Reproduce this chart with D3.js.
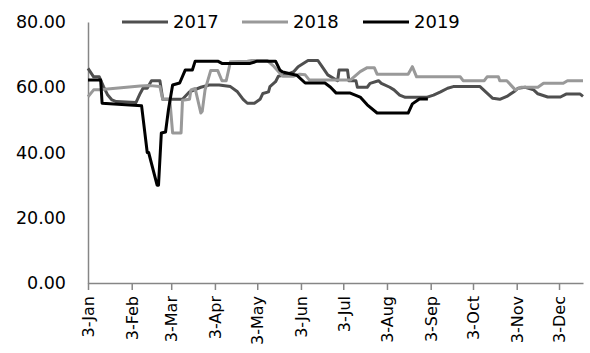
<!DOCTYPE html>
<html>
<head>
<meta charset="utf-8">
<script src="https://cdn.jsdelivr.net/npm/d3@7"></script>
<style>
  body { margin: 0; background: #fff; }
  svg { display: block; }
  text { font-family: "DejaVu Sans", sans-serif; fill: #000; }
</style>
</head>
<body>
<svg id="chart" width="590" height="353"></svg>
<script>
const years = [`2017`, `2018`, `2019`];
const colors = [`#4f4f4f`, `#999999`, `#000000`];

const dates2017 = [`01-03`, `01-07`, `01-11`, `01-14`, `01-17`, `01-20`, `01-23`, `02-06`, `02-09`, `02-11`,
    `02-14`, `02-17`, `02-23`, `02-24`, `02-25`, `03-11`, `03-16`, `03-24`, `03-30`, `04-06`,
    `04-14`, `04-19`, `04-23`, `04-26`, `05-01`, `05-05`, `05-07`, `05-11`, `05-12`, `05-16`,
    `05-18`, `05-23`, `05-29`, `06-01`, `06-08`, `06-15`, `06-18`, `06-22`, `06-29`, `06-30`,
    `07-06`, `07-07`, `07-12`, `07-13`, `07-20`, `07-22`, `07-28`, `07-30`, `08-05`, `08-08`,
    `08-12`, `08-16`, `08-31`, `09-05`, `09-10`, `09-15`, `09-19`, `10-08`, `10-12`, `10-17`,
    `10-22`, `10-27`, `11-01`, `11-04`, `11-09`, `11-15`, `11-18`, `11-25`, `12-04`, `12-08`,
    `12-18`, `12-20`];
const values2017 = [65.8, 63.2, 63.2, 60.2, 57.6, 56.1, 55.6, 55.3, 58.1, 59.7,
    59.7, 62, 62, 59.2, 56.3, 56.3, 58.6, 60, 60.7, 60.7,
    60.2, 58.6, 56.3, 55.1, 55.1, 56.3, 58.1, 58.6, 60.2, 61.7,
    63.4, 63.8, 64.8, 66.3, 68.2, 68.2, 66.3, 63.8, 62, 65.3,
    65.3, 62, 62, 60, 60, 61.2, 62, 61.2, 60, 59.2,
    57.6, 56.9, 56.9, 57.6, 58.6, 59.7, 60.2, 60.2, 58.6, 56.6,
    56.3, 57.2, 58.6, 59.7, 60, 59.2, 58, 57, 57, 57.9,
    57.9, 57.2];

const dates2018 = [`01-03`, `01-07`, `01-11`, `02-09`, `02-16`, `02-23`, `02-25`, `03-02`, `03-04`, `03-10`,
    `03-11`, `03-16`, `03-17`, `03-20`, `03-24`, `03-25`, `03-27`, `03-31`, `04-05`, `04-08`,
    `04-11`, `04-14`, `04-26`, `04-29`, `05-10`, `05-15`, `05-18`, `05-21`, `05-29`, `06-02`,
    `06-06`, `06-09`, `07-08`, `07-15`, `07-20`, `07-25`, `07-27`, `08-18`, `08-21`, `08-24`,
    `09-24`, `09-26`, `10-11`, `10-13`, `10-21`, `10-22`, `10-27`, `11-02`, `11-06`, `11-18`,
    `11-22`, `12-06`, `12-09`, `12-20`];
const values2018 = [57.1, 59.2, 59.2, 60.4, 60.5, 60.2, 56.3, 56.3, 46, 46,
    56, 56.3, 59.2, 59.6, 52.1, 52.6, 59.2, 65.1, 65.1, 62,
    62, 67.8, 68, 68.2, 68.2, 66.3, 64.8, 63.4, 63.4, 64,
    63.8, 62.2, 62.2, 64.8, 66, 66, 64, 64, 66.3, 63.2,
    63.2, 62, 62, 63.2, 63.2, 62, 62, 59.2, 60, 60,
    61.2, 61.2, 62, 62];

const dates2019 = [`01-03`, `01-12`, `01-13`, `02-10`, `02-14`, `02-15`, `02-21`, `02-22`, `02-24`, `02-27`,
    `03-01`, `03-04`, `03-09`, `03-13`, `03-18`, `03-20`, `04-05`, `04-08`, `04-28`, `05-03`,
    `05-16`, `05-19`, `05-21`, `05-31`, `06-06`, `06-20`, `06-24`, `06-28`, `07-08`, `07-15`,
    `07-20`, `07-27`, `08-18`, `08-21`, `08-26`, `09-01`];
const values2019 = [62.2, 62.2, 55.1, 54.3, 40, 40, 30, 30, 46, 46.3,
    53, 60.7, 61.3, 65.3, 65.3, 68, 68, 67.3, 67.3, 68,
    68, 65.3, 64.7, 63.7, 61.3, 61.3, 60, 58.2, 58.2, 57,
    54.6, 52.1, 52.1, 54.9, 56.4, 56.4];

const tickDates = [`01-03`, `02-03`, `03-03`, `04-03`, `05-03`, `06-03`, `07-03`, `08-03`, `09-03`, `10-03`, `11-03`, `12-03`];
const yTicks = [0, 20, 40, 60, 80];

const parse = d3.timeParse(`%Y-%m-%d`);
const toDate = s => parse(`2019-${s}`);

const seriesDates = [dates2017, dates2018, dates2019];
const seriesValues = [values2017, values2018, values2019];
const series = years.map((y, i) => ({
    name: y,
    color: colors[i],
    points: seriesDates[i].map((d, j) => ({ date: toDate(d), value: seriesValues[i][j] }))
}));

const plotLeft = 88;
const plotRight = 583;
const plotTop = 22;
const plotBottom = 283;

const xScale = d3.scaleTime()
    .domain([toDate(`01-03`), toDate(`12-20`)])
    .range([plotLeft, plotRight]);

const yScale = d3.scaleLinear()
    .domain([0, 80])
    .range([plotBottom, plotTop]);

const svg = d3.select(`#chart`);

// axes
const xAxis = d3.axisBottom(xScale)
    .tickValues(tickDates.map(toDate))
    .tickFormat(d3.timeFormat(`%-d-%b`))
    .tickSize(7)
    .tickSizeOuter(0);

const xg = svg.append(`g`)
    .attr(`transform`, `translate(0, ${plotBottom})`)
    .call(xAxis);
xg.select(`.domain`).attr(`stroke`, `#868686`).attr(`stroke-width`, 1.5);
xg.selectAll(`.tick line`).attr(`stroke`, `#868686`).attr(`stroke-width`, 1.5);
xg.selectAll(`.tick text`)
    .attr(`font-size`, 16)
    .attr(`font-family`, `DejaVu Sans, sans-serif`)
    .attr(`fill`, `#000`)
    .attr(`text-anchor`, `end`)
    .attr(`transform`, `rotate(-90)`)
    .attr(`x`, -13)
    .attr(`y`, 0)
    .attr(`dy`, `0.36em`);

const yAxis = d3.axisLeft(yScale)
    .tickValues(yTicks)
    .tickFormat(d3.format(`.2f`))
    .tickSize(0)
    .tickPadding(22);

const yg = svg.append(`g`)
    .attr(`transform`, `translate(${plotLeft}, 0)`)
    .call(yAxis);
yg.select(`.domain`).attr(`stroke`, `#868686`).attr(`stroke-width`, 1.5);
yg.selectAll(`.tick text`)
    .attr(`font-size`, 17.5)
    .attr(`font-family`, `DejaVu Sans, sans-serif`)
    .attr(`fill`, `#000`);

// lines
const line = d3.line()
    .x(d => xScale(d.date))
    .y(d => yScale(d.value));

svg.selectAll(`path.series`)
    .data(series)
    .enter()
    .append(`path`)
    .attr(`class`, `series`)
    .attr(`d`, d => line(d.points))
    .attr(`fill`, `none`)
    .attr(`stroke`, d => d.color)
    .attr(`stroke-width`, 3)
    .attr(`stroke-linejoin`, `round`);

// legend
const legendX = [122, 242, 363];
const legend = svg.selectAll(`g.legend`)
    .data(series)
    .enter()
    .append(`g`)
    .attr(`class`, `legend`)
    .attr(`transform`, (d, i) => `translate(${legendX[i]}, 22)`);

legend.append(`line`)
    .attr(`x1`, 0)
    .attr(`x2`, 46)
    .attr(`stroke`, d => d.color)
    .attr(`stroke-width`, 3);

legend.append(`text`)
    .attr(`x`, 51)
    .attr(`dy`, `0.36em`)
    .attr(`font-size`, 18)
    .text(d => d.name);
</script>
</body>
</html>
